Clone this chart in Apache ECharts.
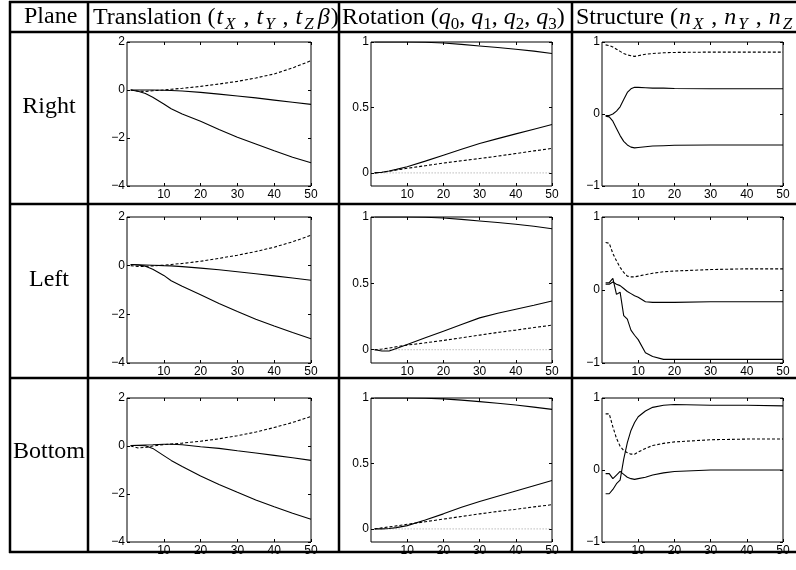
<!DOCTYPE html>
<html>
<head>
<meta charset="utf-8">
<script src="https://cdn.jsdelivr.net/npm/echarts@6/dist/echarts.min.js"></script>
<style>
html, body {margin: 0; padding: 0; background: #fff;}
#chart {width: 796px; height: 570px;}
</style>
</head>
<body>
<div id="chart"></div>
<script>
// row labels
var planes = ["Right", "Left", "Bottom"];

// tick labels
var xTicks = [10, 20, 30, 40, 50];
var transTicks = [-4, -2, 0, 2];
var rotTicks = [0, 0.5, 1];
var structTicks = [-1, 0, 1];

// sample positions (frame index)
var xTr = [1, 3, 5, 7, 10, 12, 15, 20, 25, 30, 35, 40, 45, 50];
var xRo = [1, 3, 5, 7, 10, 15, 20, 25, 30, 35, 40, 45, 50];
var xSt = [1, 2, 3, 4, 5, 6, 7, 8, 9, 10, 12, 14, 17, 20, 30, 40, 50];

// translation tX, tY, tZ*beta
var rightTx = [0, -0.05, -0.15, -0.3, -0.58, -0.78, -1.0, -1.3, -1.65, -1.97, -2.25, -2.53, -2.8, -3.03];
var rightTy = [0, 0, 0, 0, -0.01, -0.02, -0.04, -0.1, -0.17, -0.25, -0.33, -0.42, -0.51, -0.6];
var rightTz = [0, -0.05, -0.06, -0.03, 0, 0.03, 0.07, 0.15, 0.25, 0.36, 0.5, 0.67, 0.92, 1.22];
var leftTx = [0.05, 0.03, -0.02, -0.15, -0.4, -0.62, -0.85, -1.2, -1.55, -1.88, -2.2, -2.48, -2.75, -3.0];
var leftTy = [0.05, 0.04, 0.03, 0.02, 0, -0.01, -0.04, -0.1, -0.17, -0.25, -0.33, -0.42, -0.51, -0.6];
var leftTz = [0, -0.03, -0.03, -0.01, 0.02, 0.05, 0.09, 0.18, 0.3, 0.43, 0.58, 0.76, 0.98, 1.25];
var bottomTx = [0.02, 0.02, 0.01, -0.1, -0.4, -0.6, -0.85, -1.25, -1.6, -1.93, -2.25, -2.53, -2.8, -3.05];
var bottomTy = [0.02, 0.03, 0.04, 0.05, 0.07, 0.07, 0.05, -0.03, -0.1, -0.2, -0.29, -0.39, -0.49, -0.6];
var bottomTz = [0, -0.08, -0.06, 0, 0.06, 0.08, 0.12, 0.2, 0.3, 0.43, 0.58, 0.77, 0.98, 1.23];

// rotation q0..q3
var rightQ0 = [1, 1, 1, 1, 1, 0.998, 0.992, 0.982, 0.97, 0.958, 0.945, 0.93, 0.912];
var rightQ1 = [0, 0.005, 0.015, 0.027, 0.047, 0.09, 0.135, 0.18, 0.225, 0.262, 0.298, 0.334, 0.37];
var rightQ2 = [0, 0.004, 0.012, 0.022, 0.035, 0.055, 0.075, 0.093, 0.11, 0.128, 0.148, 0.168, 0.187];
var rightQ3 = [0, 0, 0, 0, 0, 0, 0, 0, 0, 0, 0, 0, 0];
var leftQ0 = [1, 1, 1, 1, 1, 0.998, 0.992, 0.982, 0.97, 0.958, 0.945, 0.93, 0.912];
var leftQ1 = [0, -0.01, -0.01, 0.01, 0.04, 0.09, 0.14, 0.19, 0.24, 0.275, 0.305, 0.335, 0.367];
var leftQ2 = [0, 0.005, 0.013, 0.022, 0.035, 0.052, 0.07, 0.09, 0.11, 0.13, 0.148, 0.167, 0.185];
var leftQ3 = [0, 0, 0, 0, 0, 0, 0, 0, 0, 0, 0, 0, 0];
var bottomQ0 = [1, 1, 1, 1, 1, 0.998, 0.993, 0.984, 0.972, 0.96, 0.946, 0.93, 0.913];
var bottomQ1 = [0, 0, 0.003, 0.01, 0.025, 0.068, 0.115, 0.165, 0.21, 0.25, 0.29, 0.33, 0.37];
var bottomQ2 = [0, 0.008, 0.015, 0.023, 0.035, 0.055, 0.075, 0.095, 0.115, 0.133, 0.15, 0.168, 0.185];
var bottomQ3 = [0, 0, 0, 0, 0, 0, 0, 0, 0, 0, 0, 0, 0];

// structure nX (dashed), nY, nZ
var rightNx = [0.96, 0.95, 0.93, 0.9, 0.87, 0.84, 0.82, 0.81, 0.8, 0.81, 0.83, 0.84, 0.85, 0.855, 0.86, 0.86, 0.86];
var rightNy = [-0.02, -0.02, 0, 0.04, 0.1, 0.2, 0.3, 0.35, 0.37, 0.37, 0.365, 0.36, 0.36, 0.355, 0.35, 0.35, 0.35];
var rightNz = [-0.03, -0.04, -0.1, -0.2, -0.3, -0.38, -0.43, -0.46, -0.47, -0.465, -0.455, -0.445, -0.44, -0.435, -0.43, -0.43, -0.43];
var leftNx = [0.65, 0.64, 0.5, 0.4, 0.31, 0.24, 0.19, 0.18, 0.18, 0.19, 0.21, 0.23, 0.25, 0.26, 0.28, 0.29, 0.29];
var leftNy = [0.08, 0.08, 0.11, 0.08, 0.06, 0.02, -0.02, -0.05, -0.08, -0.1, -0.16, -0.17, -0.17, -0.17, -0.16, -0.16, -0.16];
var leftNz = [0.1, 0.1, 0.16, -0.06, -0.03, -0.35, -0.4, -0.55, -0.62, -0.68, -0.86, -0.91, -0.95, -0.95, -0.95, -0.95, -0.95];
var bottomNx = [0.78, 0.78, 0.6, 0.44, 0.33, 0.27, 0.24, 0.22, 0.22, 0.25, 0.3, 0.34, 0.37, 0.39, 0.42, 0.43, 0.43];
var bottomNy = [-0.33, -0.33, -0.27, -0.19, -0.14, 0.15, 0.38, 0.55, 0.66, 0.74, 0.82, 0.87, 0.9, 0.91, 0.9, 0.9, 0.89];
var bottomNz = [-0.05, -0.05, -0.12, -0.07, -0.02, -0.06, -0.1, -0.12, -0.13, -0.12, -0.1, -0.07, -0.04, -0.02, 0, 0, 0];

// panel layout
var colLeft = [127, 371, 602];
var colWidth = [184, 181, 181];
var rowTop = [42, 217, 398];
var rowHeight = [144, 146, 144];
var yRange = [[-4, 2], [-0.1, 1], [-1, 1]];
var yTickSets = [transTicks, rotTicks, structTicks];

var SOLID = {color: "#000", width: 1.1, type: "solid"};
var DASH = {color: "#000", width: 1.1, type: [3, 2]};
var DOT = {color: "#9a9a9a", width: 1, type: [1, 2]};

// one entry per row; columns: translation, rotation, structure
var panelData = [
    [
        {xs: xTr, ys: [rightTx, rightTy, rightTz], st: [SOLID, SOLID, DASH]},
        {xs: xRo, ys: [rightQ3, rightQ0, rightQ1, rightQ2], st: [DOT, SOLID, SOLID, DASH]},
        {xs: xSt, ys: [rightNx, rightNy, rightNz], st: [DASH, SOLID, SOLID]}
    ],
    [
        {xs: xTr, ys: [leftTx, leftTy, leftTz], st: [SOLID, SOLID, DASH]},
        {xs: xRo, ys: [leftQ3, leftQ0, leftQ1, leftQ2], st: [DOT, SOLID, SOLID, DASH]},
        {xs: xSt, ys: [leftNx, leftNy, leftNz], st: [DASH, SOLID, SOLID]}
    ],
    [
        {xs: xTr, ys: [bottomTx, bottomTy, bottomTz], st: [SOLID, SOLID, DASH]},
        {xs: xRo, ys: [bottomQ3, bottomQ0, bottomQ1, bottomQ2], st: [DOT, SOLID, SOLID, DASH]},
        {xs: xSt, ys: [bottomNx, bottomNy, bottomNz], st: [DASH, SOLID, SOLID]}
    ]
];

function minusSign(v) {
    return String(v).replace("-", "\u2212");
}

function zip(xs, ys) {
    return xs.map(function (x, i) { return [x, ys[i]]; });
}

var grids = [], xAxes = [], yAxes = [], series = [];
var tickFont = {color: "#000", fontFamily: "Liberation Sans", fontSize: 12};
var tickLine = {color: "#000", width: 1};

for (var r = 0; r < 3; r++) {
    for (var c = 0; c < 3; c++) {
        var k = grids.length;
        grids.push({
            left: colLeft[c], top: rowTop[r], width: colWidth[c], height: rowHeight[r],
            show: true, borderColor: "#000", borderWidth: 1, backgroundColor: "transparent"
        });
        // bottom + top x axes, left + right y axes (boxed plot, ticks on every side)
        ["bottom", "top"].forEach(function (pos) {
            xAxes.push({
                gridIndex: k, type: "value", min: 0, max: 50, position: pos,
                axisLine: {show: false, onZero: false}, splitLine: {show: false},
                axisTick: {show: true, inside: true, length: 3, customValues: xTicks, lineStyle: tickLine},
                axisLabel: Object.assign({show: pos === "bottom", margin: 3, customValues: xTicks}, tickFont)
            });
        });
        ["left", "right"].forEach(function (pos) {
            yAxes.push({
                gridIndex: k, type: "value", min: yRange[c][0], max: yRange[c][1], position: pos,
                axisLine: {show: false, onZero: false}, splitLine: {show: false},
                axisTick: {show: true, inside: true, length: 3, customValues: yTickSets[c], lineStyle: tickLine},
                axisLabel: Object.assign({show: pos === "left", margin: 2, customValues: yTickSets[c], formatter: minusSign}, tickFont)
            });
        });
        var p = panelData[r][c];
        p.ys.forEach(function (ys, j) {
            series.push({
                type: "line", xAxisIndex: 2 * k, yAxisIndex: 2 * k,
                data: zip(p.xs, ys),
                symbol: "none", silent: true, smooth: false,
                lineStyle: p.st[j]
            });
        });
    }
}

// header texts with math-style subscripts
var serif = "Liberation Serif";
var headRich = {
    n: {fontFamily: serif, fontSize: 24, fontWeight: "normal", color: "#000"},
    i: {fontFamily: serif, fontSize: 24, fontWeight: "normal", fontStyle: "italic", color: "#000", padding: [0, 1, 0, 1]},
    q: {fontFamily: serif, fontSize: 24, fontWeight: "normal", fontStyle: "italic", color: "#000"},
    c: {fontFamily: serif, fontSize: 24, fontWeight: "normal", color: "#000", padding: [0, 6, 0, 5]},
    s: {fontFamily: serif, fontSize: 17, fontWeight: "normal", fontStyle: "italic", color: "#000", padding: [13, 3, 0, 1]},
    d: {fontFamily: serif, fontSize: 17, fontWeight: "normal", color: "#000", padding: [13, 0, 0, 0]}
};
var headers = [
    {left: 24, top: 5, text: "{n|Plane}"},
    {left: 93, top: 3, text: "{n|Translation (}{i|t}{s|X}{c|,}{i|t}{s|Y}{c|,}{i|t}{s|Z}{i|\u03b2}{n|)}"},
    {left: 342, top: 3, text: "{n|Rotation (}{q|q}{d|0}{n|, }{q|q}{d|1}{n|, }{q|q}{d|2}{n|, }{q|q}{d|3}{n|)}"},
    {left: 576, top: 3, text: "{n|Structure (}{i|n}{s|X}{c|,}{i|n}{s|Y}{c|,}{i|n}{s|Z}{n|)}"}
];
var titles = headers.map(function (h) {
    return {left: h.left, top: h.top, padding: 0, text: h.text, textStyle: {fontWeight: "normal", rich: headRich}};
});

// table rules
var tableLine = {stroke: "#000", lineWidth: 2.5};
var hRules = [2, 32, 204, 378, 552];
var vRules = [10, 88, 339, 572];
var graphics = [];
hRules.forEach(function (y) {
    graphics.push({type: "line", shape: {x1: 9, y1: y, x2: 800, y2: y}, style: tableLine, z: 10});
});
vRules.forEach(function (x) {
    graphics.push({type: "line", shape: {x1: x, y1: 1, x2: x, y2: 553}, style: tableLine, z: 10});
});
var labelY = [107, 280, 452];
planes.forEach(function (name, i) {
    graphics.push({
        type: "text", x: 49, y: labelY[i], z: 10,
        style: {text: name, font: "24px Liberation Serif", fill: "#000", align: "center", verticalAlign: "middle"}
    });
});

var myChart = echarts.init(document.getElementById("chart"));
myChart.setOption({
    animation: false,
    backgroundColor: "#fff",
    title: titles,
    grid: grids,
    xAxis: xAxes,
    yAxis: yAxes,
    series: series,
    graphic: graphics
});
</script>
</body>
</html>
